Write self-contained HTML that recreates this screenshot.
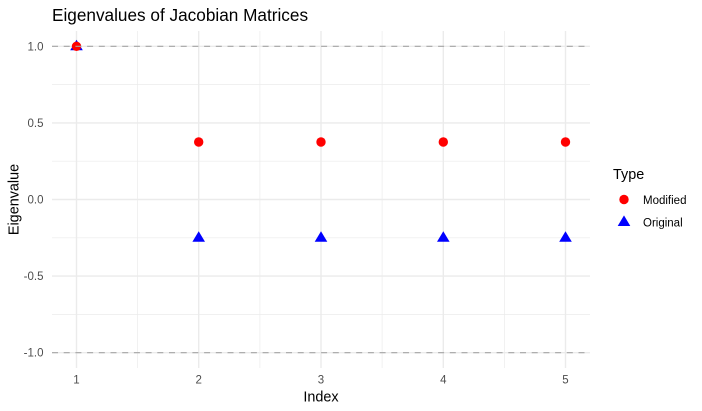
<!DOCTYPE html>
<html>
<head>
<meta charset="utf-8">
<style>
  html, body { margin: 0; padding: 0; background: #ffffff; }
  svg { display: block; }
  text { font-family: "Liberation Sans", Arial, sans-serif; }
</style>
</head>
<body>
<svg width="702" height="411" viewBox="0 0 702 411" xmlns="http://www.w3.org/2000/svg">
  <rect width="702" height="411" fill="#ffffff"/>

  <!-- minor grid -->
  <g stroke="#ebebeb" stroke-width="0.7">
    <line x1="137.6" y1="31" x2="137.6" y2="368"/>
    <line x1="259.9" y1="31" x2="259.9" y2="368"/>
    <line x1="382.1" y1="31" x2="382.1" y2="368"/>
    <line x1="504.4" y1="31" x2="504.4" y2="368"/>
    <line x1="52" y1="84.4" x2="590" y2="84.4"/>
    <line x1="52" y1="161.2" x2="590" y2="161.2"/>
    <line x1="52" y1="237.8" x2="590" y2="237.8"/>
    <line x1="52" y1="314.6" x2="590" y2="314.6"/>
  </g>
  <!-- major grid -->
  <g stroke="#ebebeb" stroke-width="1.4">
    <line x1="76.5" y1="31" x2="76.5" y2="368"/>
    <line x1="198.7" y1="31" x2="198.7" y2="368"/>
    <line x1="321" y1="31" x2="321" y2="368"/>
    <line x1="443.3" y1="31" x2="443.3" y2="368"/>
    <line x1="565.5" y1="31" x2="565.5" y2="368"/>
    <line x1="52" y1="46.3" x2="590" y2="46.3"/>
    <line x1="52" y1="122.9" x2="590" y2="122.9"/>
    <line x1="52" y1="199.5" x2="590" y2="199.5"/>
    <line x1="52" y1="276.1" x2="590" y2="276.1"/>
    <line x1="52" y1="352.7" x2="590" y2="352.7"/>
  </g>

  <!-- Original (blue triangles) -->
  <g fill="#0000ff">
    <polygon points="76.5,39.7 70.2,50.3 82.8,50.3"/>
    <polygon points="198.7,231.2 192.4,241.8 205,241.8"/>
    <polygon points="321,231.2 314.7,241.8 327.3,241.8"/>
    <polygon points="443.3,231.2 437,241.8 449.6,241.8"/>
    <polygon points="565.5,231.2 559.2,241.8 571.8,241.8"/>
  </g>
  <!-- Modified (red circles) -->
  <g fill="#ff0000">
    <circle cx="76.5" cy="46.3" r="4.7"/>
    <circle cx="198.7" cy="142" r="4.7"/>
    <circle cx="321" cy="142" r="4.7"/>
    <circle cx="443.3" cy="142" r="4.7"/>
    <circle cx="565.5" cy="142" r="4.7"/>
  </g>

  <!-- dashed reference lines -->
  <g stroke="#a6a6a6" stroke-width="1.1" stroke-dasharray="6,5.7">
    <line x1="52" y1="46.3" x2="590" y2="46.3"/>
    <line x1="52" y1="352.7" x2="590" y2="352.7"/>
  </g>

  <!-- y tick labels -->
  <g fill="#4d4d4d" font-size="11.5" text-anchor="end">
    <text x="43.5" y="50.3">1.0</text>
    <text x="43.5" y="126.9">0.5</text>
    <text x="43.5" y="203.5">0.0</text>
    <text x="43.5" y="280.1">-0.5</text>
    <text x="43.5" y="356.7">-1.0</text>
  </g>
  <!-- x tick labels -->
  <g fill="#4d4d4d" font-size="11.5" text-anchor="middle">
    <text x="76.5" y="383.5">1</text>
    <text x="198.7" y="383.5">2</text>
    <text x="321" y="383.5">3</text>
    <text x="443.3" y="383.5">4</text>
    <text x="565.5" y="383.5">5</text>
  </g>

  <!-- axis titles -->
  <text x="321" y="401.5" font-size="14.4" text-anchor="middle" fill="#000">Index</text>
  <text transform="translate(18.5,199.5) rotate(-90)" font-size="14.4" text-anchor="middle" fill="#000">Eigenvalue</text>

  <!-- title -->
  <text x="52" y="21" font-size="17.2" fill="#000">Eigenvalues of Jacobian Matrices</text>

  <!-- legend -->
  <text x="613" y="179" font-size="14.4" fill="#000">Type</text>
  <circle cx="624" cy="199.5" r="4.7" fill="#ff0000"/>
  <text x="643" y="204" font-size="11.5" fill="#000">Modified</text>
  <polygon points="624,215.4 617.7,226 630.3,226" fill="#0000ff"/>
  <text x="643" y="226.5" font-size="11.5" fill="#000">Original</text>
</svg>
</body>
</html>
